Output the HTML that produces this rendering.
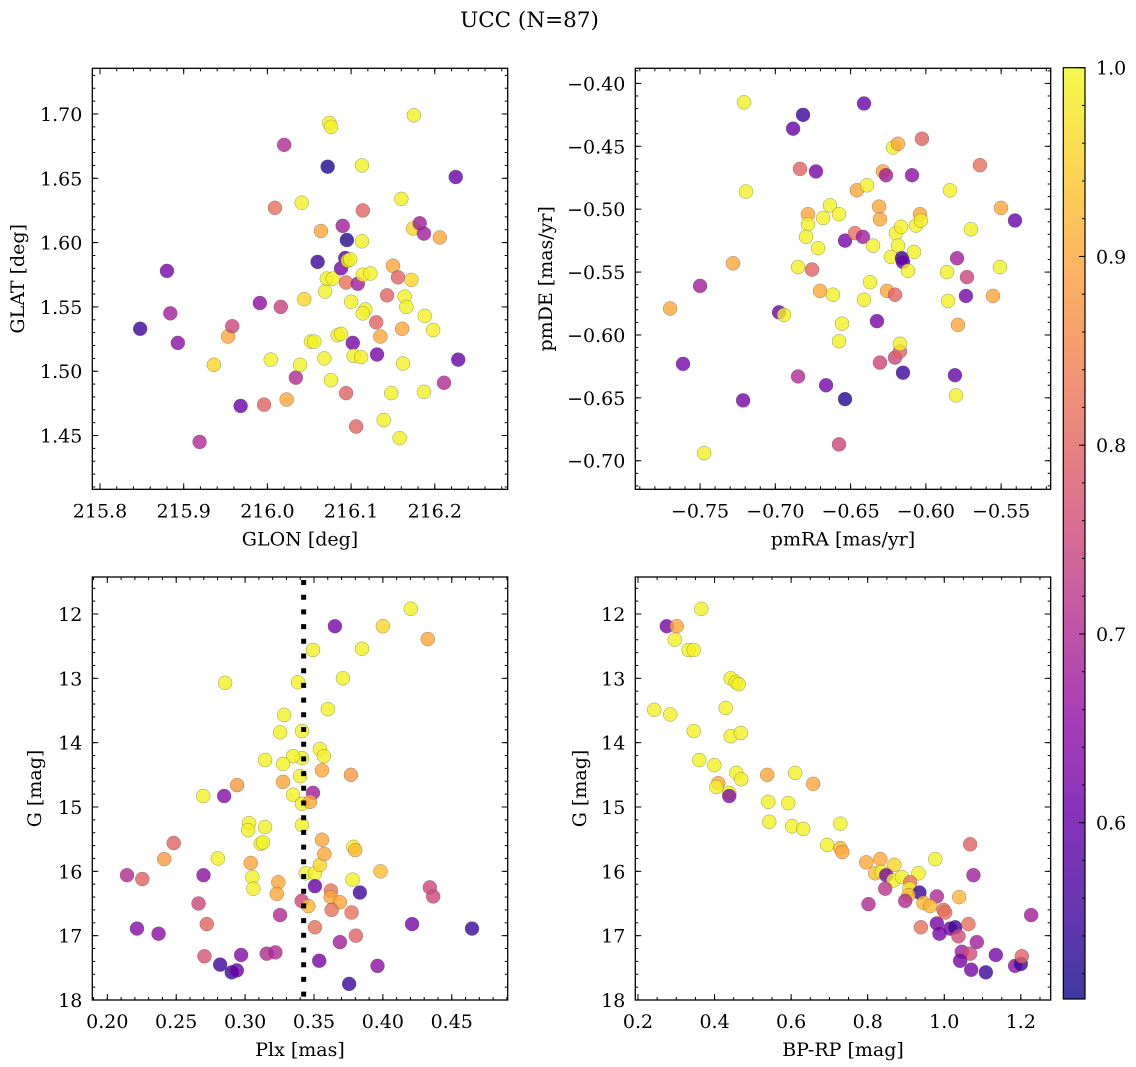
<!DOCTYPE html>
<html><head><meta charset="utf-8"><title>UCC (N=87)</title>
<style>
html,body{margin:0;padding:0;background:#fff;}
svg{display:block;font-family:"DejaVu Serif","Liberation Serif",serif;}
</style></head>
<body>
<svg id="fig" width="1136" height="1067" viewBox="0 0 1136 1067" xmlns="http://www.w3.org/2000/svg">
<text x="529.5" y="27" font-size="21.5" text-anchor="middle">UCC (N=87)</text>
</svg>
<script>
// ---------- data ----------
const p1Glon=[215.848,215.880,215.884,215.893,215.919,215.936,215.953,215.958,215.968,215.991,215.996,216.004,216.009,216.016,216.020,216.023,216.034,216.039,216.041,216.044,216.052,216.056,216.060,216.064,216.068,216.069,216.071,216.074,216.076,216.072,216.076,216.078,216.084,216.088,216.090,216.088,216.093,216.095,216.094,216.096,216.100,216.099,216.094,216.102,216.103,216.106,216.108,216.112,216.113,216.113,216.114,216.114,216.117,216.114,216.123,216.130,216.131,216.135,216.139,216.143,216.148,216.150,216.156,216.158,216.160,216.162,216.161,216.164,216.166,216.172,216.174,216.175,216.182,216.187,216.187,216.188,216.198,216.206,216.211,216.225,216.228];
const p1Glat=[1.533,1.578,1.545,1.522,1.445,1.505,1.527,1.535,1.473,1.553,1.474,1.509,1.627,1.550,1.676,1.478,1.495,1.505,1.631,1.556,1.523,1.523,1.585,1.609,1.510,1.562,1.572,1.693,1.690,1.659,1.493,1.572,1.528,1.529,1.613,1.580,1.588,1.602,1.569,1.586,1.554,1.587,1.483,1.522,1.512,1.457,1.568,1.511,1.601,1.660,1.625,1.575,1.548,1.545,1.576,1.538,1.513,1.527,1.462,1.559,1.483,1.582,1.573,1.448,1.634,1.506,1.533,1.558,1.550,1.571,1.611,1.699,1.615,1.607,1.484,1.543,1.532,1.604,1.491,1.651,1.509];
const p1Prob=[0.55,0.62,0.68,0.65,0.70,0.96,0.90,0.75,0.60,0.65,0.80,0.99,0.82,0.74,0.70,0.90,0.70,0.99,0.99,0.96,0.99,0.99,0.55,0.90,0.99,0.99,0.99,0.99,0.99,0.52,0.99,0.99,0.99,0.99,0.68,0.62,0.58,0.53,0.82,0.99,0.99,0.99,0.80,0.62,0.99,0.80,0.68,0.99,0.99,0.99,0.80,0.99,0.99,0.99,0.99,0.80,0.62,0.90,0.99,0.80,0.99,0.90,0.80,0.99,0.99,0.99,0.90,0.99,0.99,0.96,0.96,0.99,0.68,0.68,0.99,0.99,0.99,0.90,0.70,0.60,0.60];

const p2PmRA=[-0.7699,-0.7613,-0.7208,-0.6882,-0.6816,-0.6411,-0.7195,-0.7500,-0.7473,-0.7281,-0.7214,-0.6975,-0.6942,-0.6849,-0.6849,-0.6836,-0.6783,-0.6783,-0.6796,-0.6756,-0.6730,-0.6716,-0.6703,-0.6663,-0.6683,-0.6637,-0.6617,-0.6577,-0.6577,-0.6577,-0.6557,-0.6537,-0.6537,-0.6471,-0.6458,-0.6418,-0.6411,-0.6391,-0.6371,-0.6351,-0.6325,-0.6311,-0.6305,-0.6305,-0.6285,-0.6265,-0.6258,-0.6232,-0.6218,-0.6205,-0.6205,-0.6199,-0.6185,-0.6185,-0.6172,-0.6165,-0.6159,-0.6152,-0.6172,-0.6152,-0.6119,-0.6092,-0.6079,-0.6066,-0.6039,-0.6033,-0.6026,-0.5853,-0.5860,-0.5840,-0.5807,-0.5800,-0.5793,-0.5787,-0.5734,-0.5727,-0.5701,-0.5641,-0.5554,-0.5501,-0.5508,-0.5408];
const p2PmDE=[-0.579,-0.623,-0.415,-0.436,-0.425,-0.416,-0.486,-0.561,-0.694,-0.543,-0.652,-0.582,-0.584,-0.546,-0.633,-0.468,-0.504,-0.512,-0.522,-0.548,-0.470,-0.531,-0.565,-0.640,-0.507,-0.497,-0.568,-0.504,-0.605,-0.687,-0.591,-0.651,-0.525,-0.519,-0.485,-0.522,-0.572,-0.481,-0.558,-0.529,-0.589,-0.498,-0.508,-0.622,-0.470,-0.473,-0.565,-0.538,-0.451,-0.618,-0.568,-0.519,-0.529,-0.448,-0.613,-0.514,-0.539,-0.542,-0.607,-0.630,-0.549,-0.473,-0.534,-0.513,-0.504,-0.509,-0.444,-0.573,-0.550,-0.485,-0.632,-0.648,-0.539,-0.592,-0.569,-0.554,-0.516,-0.465,-0.569,-0.499,-0.546,-0.509];
const p2Prob=[0.90,0.62,0.99,0.60,0.55,0.60,0.99,0.68,0.99,0.90,0.62,0.60,0.99,0.99,0.70,0.80,0.90,0.99,0.99,0.80,0.62,0.99,0.90,0.62,0.99,0.99,0.99,0.99,0.99,0.75,0.99,0.53,0.62,0.82,0.90,0.68,0.99,0.99,0.99,0.99,0.62,0.90,0.90,0.75,0.90,0.68,0.90,0.99,0.99,0.75,0.80,0.99,0.99,0.90,0.80,0.99,0.55,0.60,0.99,0.55,0.99,0.65,0.99,0.99,0.90,0.99,0.80,0.99,0.99,0.99,0.60,0.99,0.68,0.90,0.62,0.75,0.99,0.82,0.90,0.90,0.99,0.60];

const p3Plx=[0.2482,0.2413,0.2802,0.3041,0.3114,0.2143,0.2254,0.2698,0.3053,0.3060,0.3241,0.3230,0.2662,0.2722,0.3254,0.2215,0.2372,0.2705,0.2819,0.2903,0.2940,0.2971,0.3157,0.3220,0.3411,0.3440,0.3507,0.3459,0.3507,0.3543,0.3575,0.3623,0.3621,0.3688,0.3628,0.3507,0.3785,0.3799,0.3780,0.3833,0.3773,0.3804,0.3688,0.3538,0.3755,0.3961,0.3983,0.4341,0.4365,0.4212,0.4647,
0.4203,0.3652,0.4000,0.4326,0.3493,0.3848,0.2855,0.3384,0.3710,0.3283,0.3601,0.3254,0.3413,0.3145,0.3413,0.3348,0.3543,0.3572,0.3275,0.3558,0.3768,0.3399,0.3275,0.2942,0.3348,0.3493,0.2848,0.2696,0.3413,0.3471,0.3029,0.3022,0.3145,0.3130,0.3413,0.3558];
const p3G=[15.56,15.81,15.80,15.87,15.57,16.06,16.12,16.06,16.09,16.27,16.17,16.35,16.50,16.82,16.68,16.89,16.97,17.32,17.45,17.57,17.54,17.30,17.28,17.26,16.46,16.03,16.03,16.54,16.23,15.90,15.73,16.30,16.40,16.48,16.60,16.87,15.62,15.67,16.13,16.33,16.64,17.00,17.10,17.39,17.75,17.47,16.00,16.25,16.39,16.82,16.89,
11.92,12.19,12.19,12.39,12.56,12.54,13.07,13.06,13.00,13.57,13.48,13.84,13.82,14.27,14.24,14.21,14.10,14.21,14.33,14.43,14.50,14.52,14.61,14.66,14.81,14.78,14.83,14.83,14.95,14.92,15.25,15.36,15.31,15.55,15.28,15.51];
const p3Prob=[0.80,0.88,0.99,0.90,0.99,0.70,0.80,0.65,0.99,0.99,0.90,0.90,0.75,0.80,0.70,0.64,0.65,0.77,0.55,0.55,0.60,0.64,0.70,0.70,0.75,0.99,0.99,0.92,0.60,0.96,0.90,0.82,0.90,0.90,0.82,0.82,0.99,0.92,0.99,0.55,0.82,0.80,0.68,0.62,0.55,0.65,0.93,0.75,0.75,0.62,0.55,
0.99,0.62,0.96,0.90,0.99,0.99,0.99,0.99,0.99,0.99,0.99,0.99,0.99,0.99,0.99,0.99,0.99,0.99,0.99,0.90,0.88,0.99,0.90,0.88,0.99,0.68,0.64,0.99,0.99,0.90,0.99,0.99,0.99,0.99,0.99,0.90];
const p3Cut=[0.3425];

const p4BpRp=[0.2752,0.3013,0.2961,0.3326,0.3457,0.3654,0.2425,0.2843,0.3457,0.4423,0.4553,0.4632,0.4292,0.4423,0.4684,0.3602,0.3994,0.4567,0.4697,0.4098,0.4046,0.4384,0.4384,0.5376,0.6107,0.5402,0.5924,0.5428,0.6028,0.6315,0.6576,0.7285,0.6943,0.7285,0.7337,
1.0676,0.7962,0.8329,0.8694,0.9764,0.8197,0.8371,0.8484,0.8674,0.8893,0.9326,1.0762,0.8457,0.9110,0.9093,0.9352,0.9065,0.9807,1.0389,0.8021,0.8979,0.9457,0.9632,0.9979,1.0023,1.2269,0.9389,0.9807,0.9875,1.0154,1.0285,1.0632,1.0371,1.0851,1.0459,1.0676,1.0415,1.1347,1.0702,1.1086,1.1851,1.2000,1.2026];
const p4G=[12.19,12.19,12.40,12.56,12.56,11.92,13.49,13.56,13.82,13.00,13.06,13.09,13.46,13.90,13.85,14.27,14.35,14.47,14.57,14.63,14.69,14.78,14.83,14.50,14.47,14.92,14.94,15.23,15.30,15.34,14.64,15.26,15.59,15.64,15.70,
15.58,15.86,15.81,15.90,15.81,16.03,16.01,16.06,16.14,16.09,16.03,16.06,16.27,16.17,16.27,16.33,16.37,16.39,16.40,16.51,16.46,16.49,16.54,16.60,16.64,16.68,16.87,16.81,16.97,16.89,16.87,16.82,17.01,17.10,17.25,17.28,17.39,17.30,17.53,17.57,17.47,17.44,17.32];
const p4Prob=[0.62,0.90,0.99,0.99,0.99,0.99,0.99,0.99,0.99,0.99,0.99,0.99,0.99,0.99,0.99,0.99,0.99,0.99,0.99,0.90,0.99,0.99,0.64,0.90,0.99,0.99,0.99,0.99,0.99,0.99,0.90,0.99,0.99,0.92,0.90,
0.80,0.90,0.90,0.96,0.99,0.93,0.99,0.62,0.99,0.99,0.99,0.68,0.72,0.82,0.99,0.55,0.92,0.70,0.92,0.70,0.70,0.92,0.92,0.82,0.82,0.68,0.82,0.62,0.62,0.62,0.55,0.82,0.76,0.68,0.68,0.76,0.62,0.62,0.62,0.55,0.65,0.55,0.80];

// tick labels
const p1XTicks=[215.8,215.9,216.0,216.1,216.2];
const p1YTicks=[1.45,1.50,1.55,1.60,1.65,1.70];
const p2XTicks=[-0.75,-0.70,-0.65,-0.60,-0.55];
const p2YTicks=[-0.70,-0.65,-0.60,-0.55,-0.50,-0.45,-0.40];
const p3XTicks=[0.20,0.25,0.30,0.35,0.40,0.45];
const gTicks=[12,13,14,15,16,17,18];
const p4XTicks=[0.2,0.4,0.6,0.8,1.0,1.2];
const cbTicks=[0.6,0.7,0.8,0.9,1.0];
const cbRange=[0.5066,1.0];

// ---------- rendering ----------
const NS='http://www.w3.org/2000/svg';
const svg=document.getElementById('fig');
function el(tag,attrs,parent){const e=document.createElementNS(NS,tag);for(const k in attrs)e.setAttribute(k,attrs[k]);(parent||svg).appendChild(e);return e;}
const stops=[[13,8,135],[65,4,157],[106,0,168],[143,13,164],[177,42,144],[204,71,120],[225,100,98],[242,132,75],[252,166,54],[252,206,37],[240,249,33]];
function plasma(t){t=Math.max(0,Math.min(1,t))*10;const i=Math.min(9,Math.floor(t));const f=t-i;const a=stops[i],b=stops[i+1];return 'rgb('+[0,1,2].map(k=>Math.round(a[k]+(b[k]-a[k])*f)).join(',')+')';}
function cmap(v){return plasma((v-cbRange[0])/(cbRange[1]-cbRange[0]));}
function fmt(v,d){const s=Math.abs(v).toFixed(d);return (v<-1e-9?'\u2212':'')+s;}

function panel(cfg){
  const {name,L,R,T,B,xd,yd,xs,ys,ticksX,ticksY,decX,decY,minX,minY,xlabel,ylabel,ylabelX}=cfg;
  const g=el('g',{});
  
  
  const X=v=>L+(v-xd[0])/(xd[1]-xd[0])*(R-L);
  const Y=v=>T+(v-yd[0])/(yd[1]-yd[0])*(B-T);
  const pts=el('g',{},g);
  
  
  for(let i=0;i<xs.length;i++){
    const c=el('circle',{cx:X(xs[i]),cy:Y(ys[i]),r:7,fill:cmap(cfg.cs[i]),'fill-opacity':0.8,stroke:'#555','stroke-opacity':0.6,'stroke-width':0.5},pts);
    
    
  }
  if(cfg.extra)cfg.extra(g,X,Y);
  const tk=el('g',{stroke:'#000','stroke-width':1},g);
  
  
  const eps=1e-9;
  const lo=Math.min(xd[0],xd[1]),hi=Math.max(xd[0],xd[1]);
  for(let v=Math.ceil(lo/minX-eps)*minX;v<=hi+eps;v+=minX){const x=X(v);el('line',{x1:x,y1:B,x2:x,y2:B-3},tk);el('line',{x1:x,y1:T,x2:x,y2:T+3},tk);}
  const ylo=Math.min(yd[0],yd[1]),yhi=Math.max(yd[0],yd[1]);
  for(let v=Math.ceil(ylo/minY-eps)*minY;v<=yhi+eps;v+=minY){const y=Y(v);el('line',{x1:L,y1:y,x2:L+3,y2:y},tk);el('line',{x1:R,y1:y,x2:R-3,y2:y},tk);}
  ticksX.forEach(v=>{const x=X(v);el('line',{x1:x,y1:B,x2:x,y2:B-6},tk);el('line',{x1:x,y1:T,x2:x,y2:T+6},tk);
    const t=el('text',{x:x,y:B+28,'font-size':19,'text-anchor':'middle'},g);t.textContent=fmt(v,decX);
    
    });
  ticksY.forEach(v=>{const y=Y(v);el('line',{x1:L,y1:y,x2:L+6,y2:y},tk);el('line',{x1:R,y1:y,x2:R-6,y2:y},tk);
    const t=el('text',{x:L-10,y:y+7,'font-size':19,'text-anchor':'end'},g);t.textContent=fmt(v,decY);
    
    });
  const fr=el('rect',{x:L,y:T,width:R-L,height:B-T,fill:'none',stroke:'#000','stroke-width':1.3},g);
  
  
  const xl=el('text',{x:(L+R)/2,y:B+56,'font-size':19,'text-anchor':'middle'},g);xl.textContent=xlabel;
  
  
  const cy=(T+B)/2;
  const yl=el('text',{x:ylabelX,y:cy,'font-size':19,'text-anchor':'middle',transform:'rotate(-90 '+ylabelX+' '+cy+')'},g);yl.textContent=ylabel;
  
  
}

panel({name:'glon-glat-panel',L:92.3,R:507.7,T:68.3,B:489.3,xd:[215.7908,216.2871],yd:[1.7355,1.4082],xs:p1Glon,ys:p1Glat,cs:p1Prob,ticksX:p1XTicks,ticksY:p1YTicks,decX:1,decY:2,minX:0.02,minY:0.01,xlabel:'GLON [deg]',ylabel:'GLAT [deg]',ylabelX:24});
panel({name:'pm-panel',L:635.3,R:1050.7,T:68.3,B:489.3,xd:[-0.7930,-0.5171],yd:[-0.3880,-0.7227],xs:p2PmRA,ys:p2PmDE,cs:p2Prob,ticksX:p2XTicks,ticksY:p2YTicks,decX:2,decY:2,minX:0.01,minY:0.01,xlabel:'pmRA [mas/yr]',ylabel:'pmDE [mas/yr]',ylabelX:552});
panel({name:'plx-g-panel',L:92.3,R:507.7,T:577,B:1000,xd:[0.1891,0.4906],yd:[11.425,18.0],xs:p3Plx,ys:p3G,cs:p3Prob,ticksX:p3XTicks,ticksY:gTicks,decX:2,decY:0,minX:0.01,minY:0.2,xlabel:'Plx [mas]',ylabel:'G [mag]',ylabelX:41,
  extra:(g,X,Y)=>{p3Cut.forEach(v=>{const l=el('line',{x1:X(v),y1:580,x2:X(v),y2:1000,stroke:'#000','stroke-width':5,'stroke-dasharray':'5 9.7'},g);
    
    });}});
panel({name:'cmd-panel',L:635.3,R:1050.7,T:577,B:1000,xd:[0.193,1.278],yd:[11.425,18.0],xs:p4BpRp,ys:p4G,cs:p4Prob,ticksX:p4XTicks,ticksY:gTicks,decX:1,decY:0,minX:0.05,minY:0.2,xlabel:'BP-RP [mag]',ylabel:'G [mag]',ylabelX:586});

(function(){
  const L=1063.3,R=1085,T=67.7,B=999;
  const g=el('g',{});
  
  
  const defs=el('defs',{},g);
  const lg=el('linearGradient',{id:'cbg',x1:0,y1:1,x2:0,y2:0},defs);
  for(let i=0;i<=20;i++){el('stop',{offset:i/20,'stop-color':plasma(i/20),'stop-opacity':0.8},lg);}
  const r=el('rect',{x:L,y:T,width:R-L,height:B-T,fill:'url(#cbg)',stroke:'#000','stroke-width':1.2},g);
  
  
  const Y=v=>B-(v-cbRange[0])/(cbRange[1]-cbRange[0])*(B-T);
  for(let v=0.52;v<=1.0001;v+=0.02){const y=Y(v);el('line',{x1:R,y1:y,x2:R-3,y2:y,stroke:'#000','stroke-width':1},g);}
  cbTicks.forEach(v=>{const y=Y(v);el('line',{x1:R,y1:y,x2:R-6,y2:y,stroke:'#000','stroke-width':1},g);
    const t=el('text',{x:R+11,y:y+7,'font-size':19},g);t.textContent=v.toFixed(1);
    
    });
})();
</script>
</body></html>
